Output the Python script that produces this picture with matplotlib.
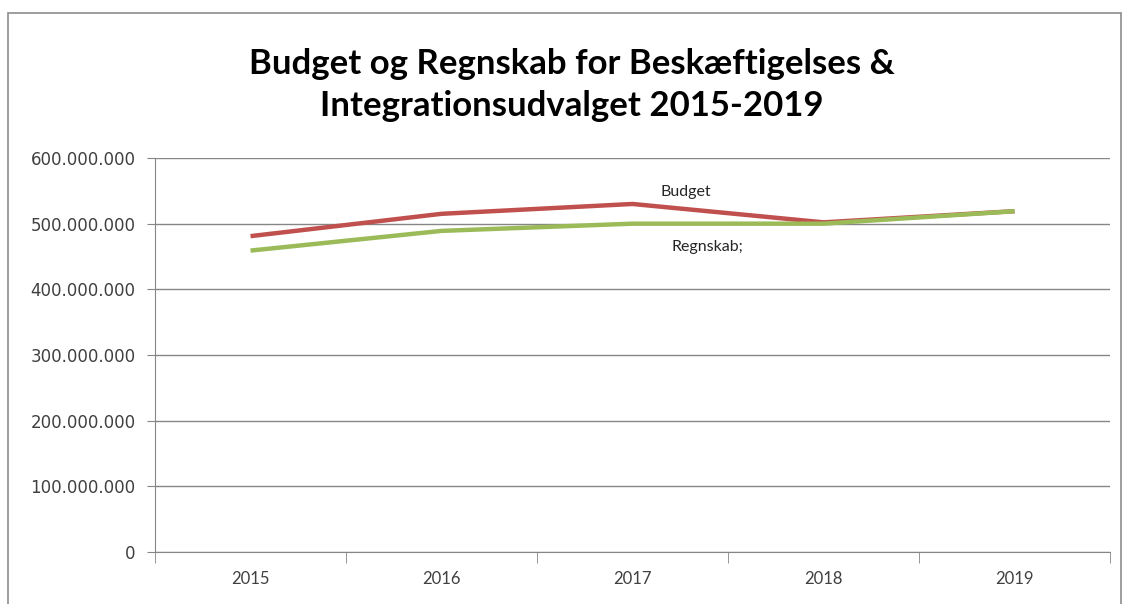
import matplotlib
matplotlib.use("Agg")
import matplotlib.pyplot as plt
from matplotlib.patches import Rectangle
from matplotlib.ticker import FuncFormatter, FixedLocator

years = ["2015", "2016", "2017", "2018", "2019"]
budget = [481e6, 515e6, 530e6, 502e6, 519e6]
regnskab = [459e6, 489e6, 500e6, 500e6, 519e6]

fig = plt.figure(figsize=(11.25, 6.04), dpi=100)
ax = fig.add_axes([155 / 1125, 1 - 552 / 604, (1110 - 155) / 1125, (552 - 158) / 604])

# chart frame
fig.patches.append(Rectangle((8 / 1125, -0.02), 1113 / 1125, 1 - 13 / 604 + 0.02,
                             transform=fig.transFigure, fill=False,
                             edgecolor="#8c8c8c", linewidth=1.2))

x = list(range(len(years)))
ax.plot(x, budget, color="#c0504d", linewidth=3.2, solid_capstyle="butt", zorder=3)
ax.plot(x, regnskab, color="#9bbb59", linewidth=3.2, solid_capstyle="butt", zorder=4)

ax.set_xlim(-0.5, 4.5)
ax.set_ylim(0, 600e6)
ax.set_yticks([i * 100e6 for i in range(7)])
ax.yaxis.set_major_formatter(FuncFormatter(lambda v, p: f"{int(v):,}".replace(",", ".")))
ax.grid(axis="y", color="#868686", linewidth=1.0)
ax.set_axisbelow(True)

ax.set_xticks(x)
ax.set_xticklabels(years, family="Lato", fontsize=12)
ax.xaxis.set_minor_locator(FixedLocator([i - 0.5 for i in range(6)]))
ax.tick_params(axis="x", which="major", length=0, pad=14)
ax.tick_params(axis="x", which="minor", length=8, color="#868686")
ax.tick_params(axis="y", length=6, color="#868686", pad=8, labelsize=12)
for lbl in ax.get_yticklabels():
    lbl.set_color("#404040")
for lbl in ax.get_xticklabels():
    lbl.set_color("#404040")

for s in ["top", "right"]:
    ax.spines[s].set_visible(False)
ax.spines["left"].set_color("#868686")
ax.spines["bottom"].set_color("#868686")

ax.text(2.28, 548e6, "Budget", family="Lato", fontsize=11.5, color="#262626", ha="center", va="center")
ax.text(2.39, 464e6, "Regnskab;", family="Lato", fontsize=11.5, color="#262626", ha="center", va="center")

fig.text(572 / 1125, 1 - 85 / 604, "Budget og Regnskab for Beskæftigelses &\nIntegrationsudvalget 2015-2019",
         family="Lato", fontweight="bold", fontsize=25, ha="center", va="center",
         linespacing=1.42, color="black")

fig.savefig("out.png", dpi=100)
